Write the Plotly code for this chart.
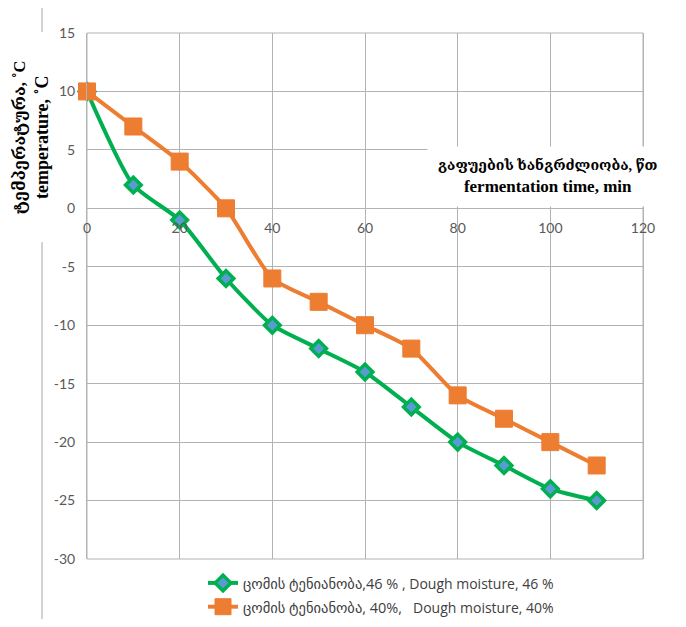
import plotly.graph_objects as go

time_min = [0, 10, 20, 30, 40, 50, 60, 70, 80, 90, 100, 110]
temp_46 = [10, 2, -1, -6, -10, -12, -14, -17, -20, -22, -24, -25]
temp_40 = [10, 7, 4, 0, -6, -8, -10, -12, -16, -18, -20, -22]
x_ticks = [0, 20, 40, 60, 80, 100, 120]
y_ticks = [15, 10, 5, 0, -5, -10, -15, -20, -25, -30]
y_tick_text = ["15", "10", "5", "0", "-5", "-10", "-15", "-20", "-25", "-30"]

name_46 = ("<span style='font-size:14.5px'>ცომის ტენიანობა,46 %</span>"
           "<span style='font-size:14px'> , Dough moisture, 46 %</span>")
name_40 = ("<span style='font-size:14.5px'>ცომის ტენიანობა, 40%,</span>"
           "<span style='font-size:14px'>\u00a0\u00a0 Dough moisture, 40%</span>")

GRID = "#b3b3b3"
TICKFONT = dict(family="Lato, Open Sans, sans-serif", size=14, color="#595959")

# page body has an 8px margin; plot area target in window px: x 87..643, y 33..559
OFF = 8
L, T = 87 - OFF, 33 - OFF
W, H = 686 - 2 * OFF, 627 - 2 * OFF
R = W - (643 - OFF)
B = H - (559 - OFF)
PW, PH = 556, 526


def px(xw):
    return (xw - 87) / PW


def py(yw):
    return (559 - yw) / PH


fig = go.Figure()
fig.add_trace(go.Scatter(
    x=time_min, y=temp_46, name=name_46, mode="lines+markers",
    line=dict(color="#00b050", width=4, shape="spline", smoothing=0.6),
    marker=dict(symbol="diamond", size=12, color="#5b9bd5",
                line=dict(color="#00b050", width=3.5)),
    cliponaxis=False,
))
fig.add_trace(go.Scatter(
    x=time_min, y=temp_40, name=name_40, mode="lines+markers",
    line=dict(color="#ed7d31", width=4, shape="spline", smoothing=0.6),
    marker=dict(symbol="square", size=17, color="#ed7d31",
                line=dict(color="#ed7d31", width=1)),
    cliponaxis=False,
))

y_min, y_max = -30, 15
fig.update_layout(
    width=W, height=H,
    margin=dict(l=L, r=R, t=T, b=B, autoexpand=False),
    paper_bgcolor="white", plot_bgcolor="white",
    showlegend=True,
    legend=dict(x=px(203), y=py(566), xanchor="left", yanchor="top",
                font=dict(family="Open Sans, DejaVu Sans, sans-serif", size=16, color="#404040"),
                bgcolor="rgba(0,0,0,0)", tracegroupgap=0, itemwidth=30),
    xaxis=dict(range=[0, 120], tickvals=x_ticks, showgrid=True, gridcolor=GRID, gridwidth=1,
               zeroline=False, showline=False, ticks="", tickfont=TICKFONT,
               ticklabelstandoff=10,
               anchor="free", position=(0 - y_min) / (y_max - y_min)),
    yaxis=dict(range=[y_min, y_max], tickvals=y_ticks, ticktext=y_tick_text,
               showgrid=True, gridcolor=GRID, gridwidth=1,
               zeroline=False, showline=True, linecolor=GRID, mirror=True, ticks="",
               tickfont=TICKFONT, ticklabelstandoff=8),
)

# frame around plot area
fig.add_shape(type="rect", xref="paper", yref="paper", x0=0, x1=1, y0=0, y1=1,
              line=dict(color=GRID, width=1), layer="below")

# vertical chart border fragments on the left
lx = px(42)
fig.add_shape(type="line", xref="paper", yref="paper", x0=lx, x1=lx,
              y0=py(8), y1=py(32), line=dict(color="#a6a6a6", width=1))
fig.add_shape(type="line", xref="paper", yref="paper", x0=lx, x1=lx,
              y0=py(242), y1=py(619), line=dict(color="#a6a6a6", width=1))

SERIF = "Liberation Serif, DejaVu Serif, DejaVu Sans, serif"

# y axis title
fig.add_annotation(
    xref="paper", yref="paper", x=px(31), y=py(137), xanchor="center", yanchor="middle",
    text="<b><span style='font-size:16.5px'>ტემპერატურა, ˚C</span></b><br><b>temperature, ˚C</b>",
    textangle=-90, showarrow=False,
    font=dict(family=SERIF, size=18, color="#000000"),
)

# x axis title with white box
fig.add_annotation(
    xref="paper", yref="paper", x=px(548), y=py(176), xanchor="center", yanchor="middle",
    text="<b><span style='font-size:14.1px'>გაფუების ხანგრძლიობა, წთ</span></b><br><b>fermentation time, min</b>",
    showarrow=False, bgcolor="white", borderpad=10,
    font=dict(family=SERIF, size=17, color="#000000"),
)

fig.write_html("out.html")
